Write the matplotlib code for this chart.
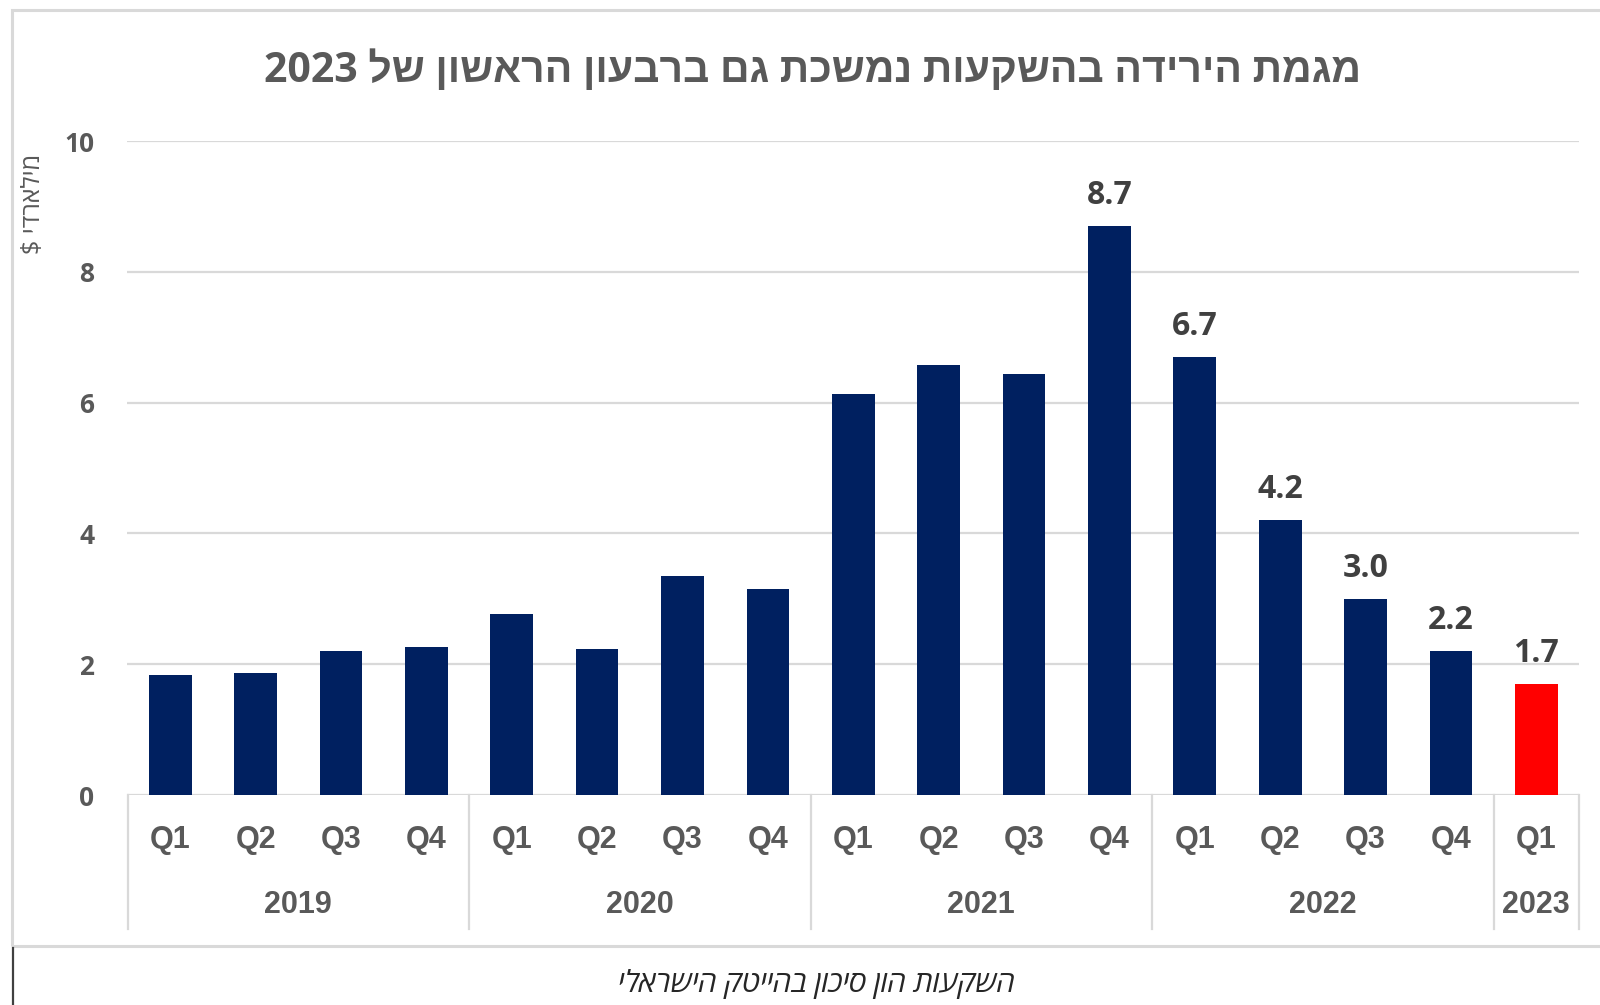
import re
import matplotlib
matplotlib.use("Agg")
import matplotlib.pyplot as plt
from matplotlib.lines import Line2D
from matplotlib.patches import Rectangle
import matplotlib.transforms as mtransforms

# ---------------- data ----------------
years = ["2019", "2020", "2021", "2022", "2023"]
quarters_per_year = [4, 4, 4, 4, 1]
quarter_labels = ["Q1", "Q2", "Q3", "Q4",
                  "Q1", "Q2", "Q3", "Q4",
                  "Q1", "Q2", "Q3", "Q4",
                  "Q1", "Q2", "Q3", "Q4",
                  "Q1"]
values = [1.84, 1.86, 2.20, 2.26,
          2.76, 2.23, 3.35, 3.15,
          6.13, 6.57, 6.44, 8.7,
          6.7, 4.2, 3.0, 2.2,
          1.7]
# indices of bars carrying a value label
labeled = [11, 12, 13, 14, 15, 16]
highlight_index = 16

title_text = "מגמת הירידה בהשקעות נמשכת גם ברבעון הראשון של 2023"
ylabel_text = "מילארדי $"
caption_text = "השקעות הון סיכון בהייטק הישראלי"
y_ticks = [0, 2, 4, 6, 8, 10]


def rtl(s):
    """Visual order for a right-to-left string (keeps digit/latin runs LTR)."""
    rev = s[::-1]
    return re.sub(r"[0-9A-Za-z.,]+", lambda m: m.group()[::-1], rev)


# ---------------- style ----------------
NAVY = "#002060"
RED = "#FF0000"
TXT = "#595959"
GRID = "#D9D9D9"
HEB = ["Open Sans", "Liberation Sans", "DejaVu Sans"]
NUM = ["Open Sans", "Liberation Sans", "DejaVu Sans"]
NARROW = ["Liberation Sans Narrow", "Liberation Sans", "DejaVu Sans"]

W, H = 1600, 1005
fig = plt.figure(figsize=(W / 100, H / 100), dpi=100)
fig.patch.set_facecolor("white")


def fx(px):
    return px / W


def fy(py):
    return 1 - py / H


ax_left, ax_right = 127.5, 1579
ax_top, ax_bottom = 141, 795
ax = fig.add_axes([fx(ax_left), fy(ax_bottom), (ax_right - ax_left) / W,
                   (ax_bottom - ax_top) / H])

n = len(values)
x = list(range(n))
colors = [RED if i == highlight_index else NAVY for i in x]
bars = ax.bar(x, values, width=0.5, color=colors, zorder=3)

ax.set_xlim(-0.5, n - 0.5)
ax.set_ylim(0, 10)
ax.set_yticks(y_ticks)
ax.set_yticklabels([str(t) for t in y_ticks])
ax.yaxis.grid(True, color=GRID, lw=1.6)
ax.set_axisbelow(True)
for s in ax.spines.values():
    s.set_visible(False)
ax.tick_params(axis="y", length=0, pad=24, labelsize=19, labelcolor=TXT)
for lab in ax.get_yticklabels():
    lab.set_fontweight("bold")
    lab.set_family(NUM)
ax.set_xticks([])

# value labels
for i in labeled:
    ax.annotate(f"{values[i]:.1f}", (x[i], values[i]), xytext=(0, 10),
                textcoords="offset points", ha="center", va="bottom",
                fontsize=23, fontweight="bold", color="#404040", family=NUM)

# category axis (two-level)
trans = mtransforms.blended_transform_factory(ax.transData, ax.transAxes)
ax_h = ax_bottom - ax_top
sep_bottom = -(929 - ax_bottom) / ax_h
q_y = -(840 - ax_bottom) / ax_h
yr_y = -(905 - ax_bottom) / ax_h

for i, q in enumerate(quarter_labels):
    ax.text(x[i], q_y, q, transform=trans, ha="center", va="center",
            fontsize=22, fontweight="bold", color=TXT, family=NARROW)

start = 0
bounds = [-0.5]
for yr, cnt in zip(years, quarters_per_year):
    mid = (x[start] + x[start + cnt - 1]) / 2
    ax.text(mid, yr_y, yr, transform=trans, ha="center", va="center",
            fontsize=22, fontweight="bold", color=TXT, family=NARROW)
    start += cnt
    bounds.append(start - 0.5)
for b in bounds:
    ax.add_line(Line2D([b, b], [0, sep_bottom], transform=trans, color=GRID,
                       lw=1.6, clip_on=False))

# title
fig.text(fx(813), fy(71), rtl(title_text), ha="center", va="center",
         fontsize=29.5, fontweight="bold", color=TXT, family=HEB)

# y-axis unit label
fig.text(fx(34), fy(204), rtl(ylabel_text), ha="center", va="center",
         rotation=90, fontsize=18, color=TXT, family=HEB)

# caption
fig.text(fx(817), fy(984), rtl(caption_text), ha="center", va="center",
         fontsize=21.5, style="italic", color="#262626", family=HEB)

# frames
fig.add_artist(Rectangle((fx(12), fy(946)), 1.2, (946 - 10) / H,
                         transform=fig.transFigure, fill=False,
                         edgecolor=GRID, lw=2.2))
fig.add_artist(Line2D([fx(12.5), fx(12.5)], [fy(948), 0],
                      transform=fig.transFigure, color="#404040", lw=1.6))

fig.savefig("out.png", dpi=100, facecolor="white")
